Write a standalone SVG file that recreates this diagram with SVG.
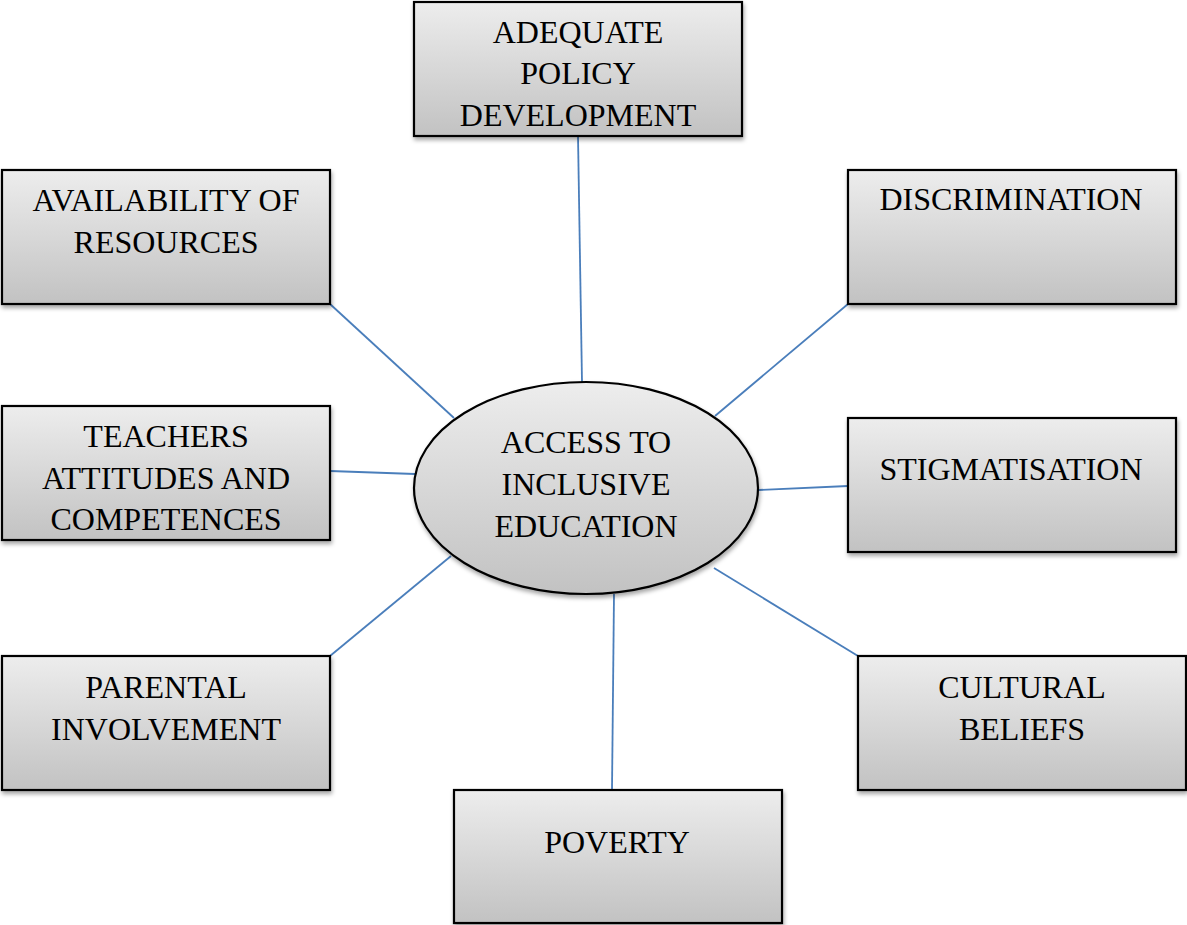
<svg xmlns="http://www.w3.org/2000/svg" width="1187" height="925" viewBox="0 0 1187 925">
<defs>
<linearGradient id="g" x1="0" y1="0" x2="0" y2="1">
<stop offset="0" stop-color="#ededed"/>
<stop offset="1" stop-color="#c2c2c2"/>
</linearGradient>
<filter id="sh" x="-10%" y="-10%" width="120%" height="130%">
<feDropShadow dx="1" dy="3" stdDeviation="2" flood-color="#000" flood-opacity="0.35"/>
</filter>
</defs>
<style>
.box{fill:url(#g);stroke:#000;stroke-width:2.2;filter:url(#sh)}
.t{font-family:"Liberation Serif","Times New Roman",serif;font-size:32px;fill:#000;text-anchor:middle}
.c{stroke:#4a7ebb;stroke-width:1.8;fill:none}
</style>
<rect width="1187" height="925" fill="#fff"/>
<g id="connectors">
<line class="c" x1="578" y1="136" x2="582" y2="382"/>
<line class="c" x1="330" y1="304" x2="454" y2="418"/>
<line class="c" x1="848" y1="304" x2="715" y2="416"/>
<line class="c" x1="330" y1="471" x2="415" y2="474"/>
<line class="c" x1="848" y1="486" x2="759" y2="490"/>
<line class="c" x1="330" y1="656" x2="451" y2="556"/>
<line class="c" x1="858" y1="656" x2="714" y2="568"/>
<line class="c" x1="612" y1="790" x2="614" y2="594"/>
</g>
<g id="n-center">
<ellipse class="box" cx="586" cy="488" rx="172" ry="106"/>
<text class="t" x="586" y="453">ACCESS TO</text>
<text class="t" x="586" y="495">INCLUSIVE</text>
<text class="t" x="586" y="537">EDUCATION</text>
</g>
<g id="n-policy">
<rect class="box" x="414" y="2" width="328" height="134"/>
<text class="t" x="578" y="43">ADEQUATE</text>
<text class="t" x="578" y="84">POLICY</text>
<text class="t" x="578" y="126">DEVELOPMENT</text>
</g>
<g id="n-resources">
<rect class="box" x="2" y="170" width="328" height="134"/>
<text class="t" x="166" y="211">AVAILABILITY OF</text>
<text class="t" x="166" y="253">RESOURCES</text>
</g>
<g id="n-discrimination">
<rect class="box" x="848" y="170" width="328" height="134"/>
<text class="t" x="1011" y="210">DISCRIMINATION</text>
</g>
<g id="n-teachers">
<rect class="box" x="2" y="406" width="328" height="134"/>
<text class="t" x="166" y="447">TEACHERS</text>
<text class="t" x="166" y="489">ATTITUDES AND</text>
<text class="t" x="166" y="530">COMPETENCES</text>
</g>
<g id="n-stigma">
<rect class="box" x="848" y="418" width="328" height="134"/>
<text class="t" x="1011" y="480">STIGMATISATION</text>
</g>
<g id="n-parental">
<rect class="box" x="2" y="656" width="328" height="134"/>
<text class="t" x="166" y="698">PARENTAL</text>
<text class="t" x="166" y="740">INVOLVEMENT</text>
</g>
<g id="n-cultural">
<rect class="box" x="858" y="656" width="328" height="134"/>
<text class="t" x="1022" y="698">CULTURAL</text>
<text class="t" x="1022" y="740">BELIEFS</text>
</g>
<g id="n-poverty">
<rect class="box" x="454" y="790" width="328" height="133"/>
<text class="t" x="617" y="853">POVERTY</text>
</g>
</svg>
